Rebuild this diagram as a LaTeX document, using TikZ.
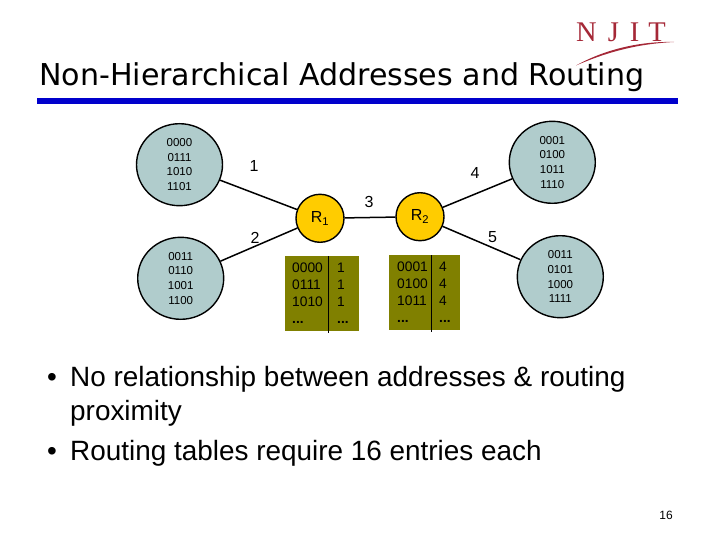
\documentclass[tikz,border=0pt]{standalone}
\usepackage{fontspec}
\setmainfont{Liberation Sans}
\newfontfamily\titlefont{DejaVu Sans}
\newfontfamily\logofont{Liberation Serif}
\usetikzlibrary{shapes.geometric}
\definecolor{netfill}{RGB}{176,204,204}
\definecolor{routerfill}{RGB}{255,204,0}
\definecolor{tablefill}{RGB}{128,128,0}
\definecolor{njit}{RGB}{165,40,55}
\definecolor{rulecol}{RGB}{0,0,204}
\tikzset{
  netnode/.style={ellipse,draw=black,line width=1.4pt,fill=netfill,minimum width=86pt,minimum height=82pt,inner sep=0pt,align=center,font=\fontsize{11.5}{14.6}\selectfont},
  routernode/.style={circle,draw=black,line width=1.4pt,fill=routerfill,minimum size=48pt,inner sep=0pt,font=\fontsize{16}{18}\selectfont},
  linkline/.style={draw=black,line width=1.5pt},
  linklabel/.style={font=\fontsize{16}{18}\selectfont,inner sep=0pt},
  tabletext/.style={font=\fontsize{13.8}{17.2}\selectfont,inner sep=0pt,align=left,anchor=north west},
  tablediv/.style={draw=black,line width=1pt},
  bodytext/.style={anchor=base west,inner sep=0pt,font=\fontsize{27.9}{32}\selectfont},
}
\begin{document}
\begin{tikzpicture}[x=1pt,y=-1pt]
\useasboundingbox (0,0) rectangle (720,540);
% title
\node[anchor=west,inner sep=0pt,font=\titlefont\fontsize{30.1}{36}\selectfont] (title) at (39,77) {Non-Hierarchical Addresses and Routing};
\fill[rulecol] (37,98.5) rectangle (678,104.5);
% logo
\node[anchor=base west,inner sep=0pt,text=njit,font=\logofont\fontsize{28.5}{28}\selectfont] (logo) at (576,42) {N\hspace{11pt}J\hspace{11pt}I\hspace{9pt}T};
\fill[njit] (576,65.5) .. controls (600,52) and (635,41) .. (674,42) .. controls (635,44) and (605,53) .. (576,65.5) -- cycle;
% networks
\node[netnode] (n1) at (179.5,164.7) {0000\\0111\\1010\\1101};
\node[netnode] (n2) at (180.7,278.3) {0011\\0110\\1001\\1100};
\node[netnode] (n4) at (552.3,162.3) {0001\\0100\\1011\\1110};
\node[netnode] (n5) at (560.3,276.7) {0011\\0101\\1000\\1111};
% routers
\node[routernode] (r1) at (320,218.3) {R\textsubscript{1}};
\node[routernode] (r2) at (420,216.7) {R\textsubscript{2}};
% links
\draw[linkline] (n1) -- (r1);
\draw[linkline] (n2) -- (r1);
\draw[linkline] (r1) -- (r2);
\draw[linkline] (r2) -- (n4);
\draw[linkline] (r2) -- (n5);
\node[linklabel] (l1) at (254,165.5) {1};
\node[linklabel] (l2) at (255,238) {2};
\node[linklabel] (l3) at (369,202) {3};
\node[linklabel] (l4) at (475,173) {4};
\node[linklabel] (l5) at (492.5,237.5) {5};
% tables
\fill[tablefill] (284.7,256) rectangle (358.7,331.3);
\draw[tablediv] (328.7,256) -- (328.7,333);
\node[tabletext] (t1a) at (292,262.5) {0000\\0111\\1010\\\textbf{...}};
\node[tabletext] (t1b) at (337,262.5) {1\\1\\1\\\textbf{...}};
\fill[tablefill] (389.3,255) rectangle (460.3,330.3);
\draw[tablediv] (431.3,255) -- (431.3,332);
\node[tabletext] (t2a) at (397,261.5) {0001\\0100\\1011\\\textbf{...}};
\node[tabletext] (t2b) at (439,261.5) {4\\4\\4\\\textbf{...}};
% bullets
\node[bodytext] (b1) at (47,386) {•};
\node[bodytext] (b1t) at (70,386) {No relationship between addresses \& routing};
\node[bodytext] (b1u) at (70,420) {proximity};
\node[bodytext] (b2) at (47,460.5) {•};
\node[bodytext] (b2t) at (70,460.5) {Routing tables require 16 entries each};
\node[anchor=base east,inner sep=0pt,font=\fontsize{12}{14}\selectfont] (pg) at (673,519) {16};
\end{tikzpicture}
\end{document}
